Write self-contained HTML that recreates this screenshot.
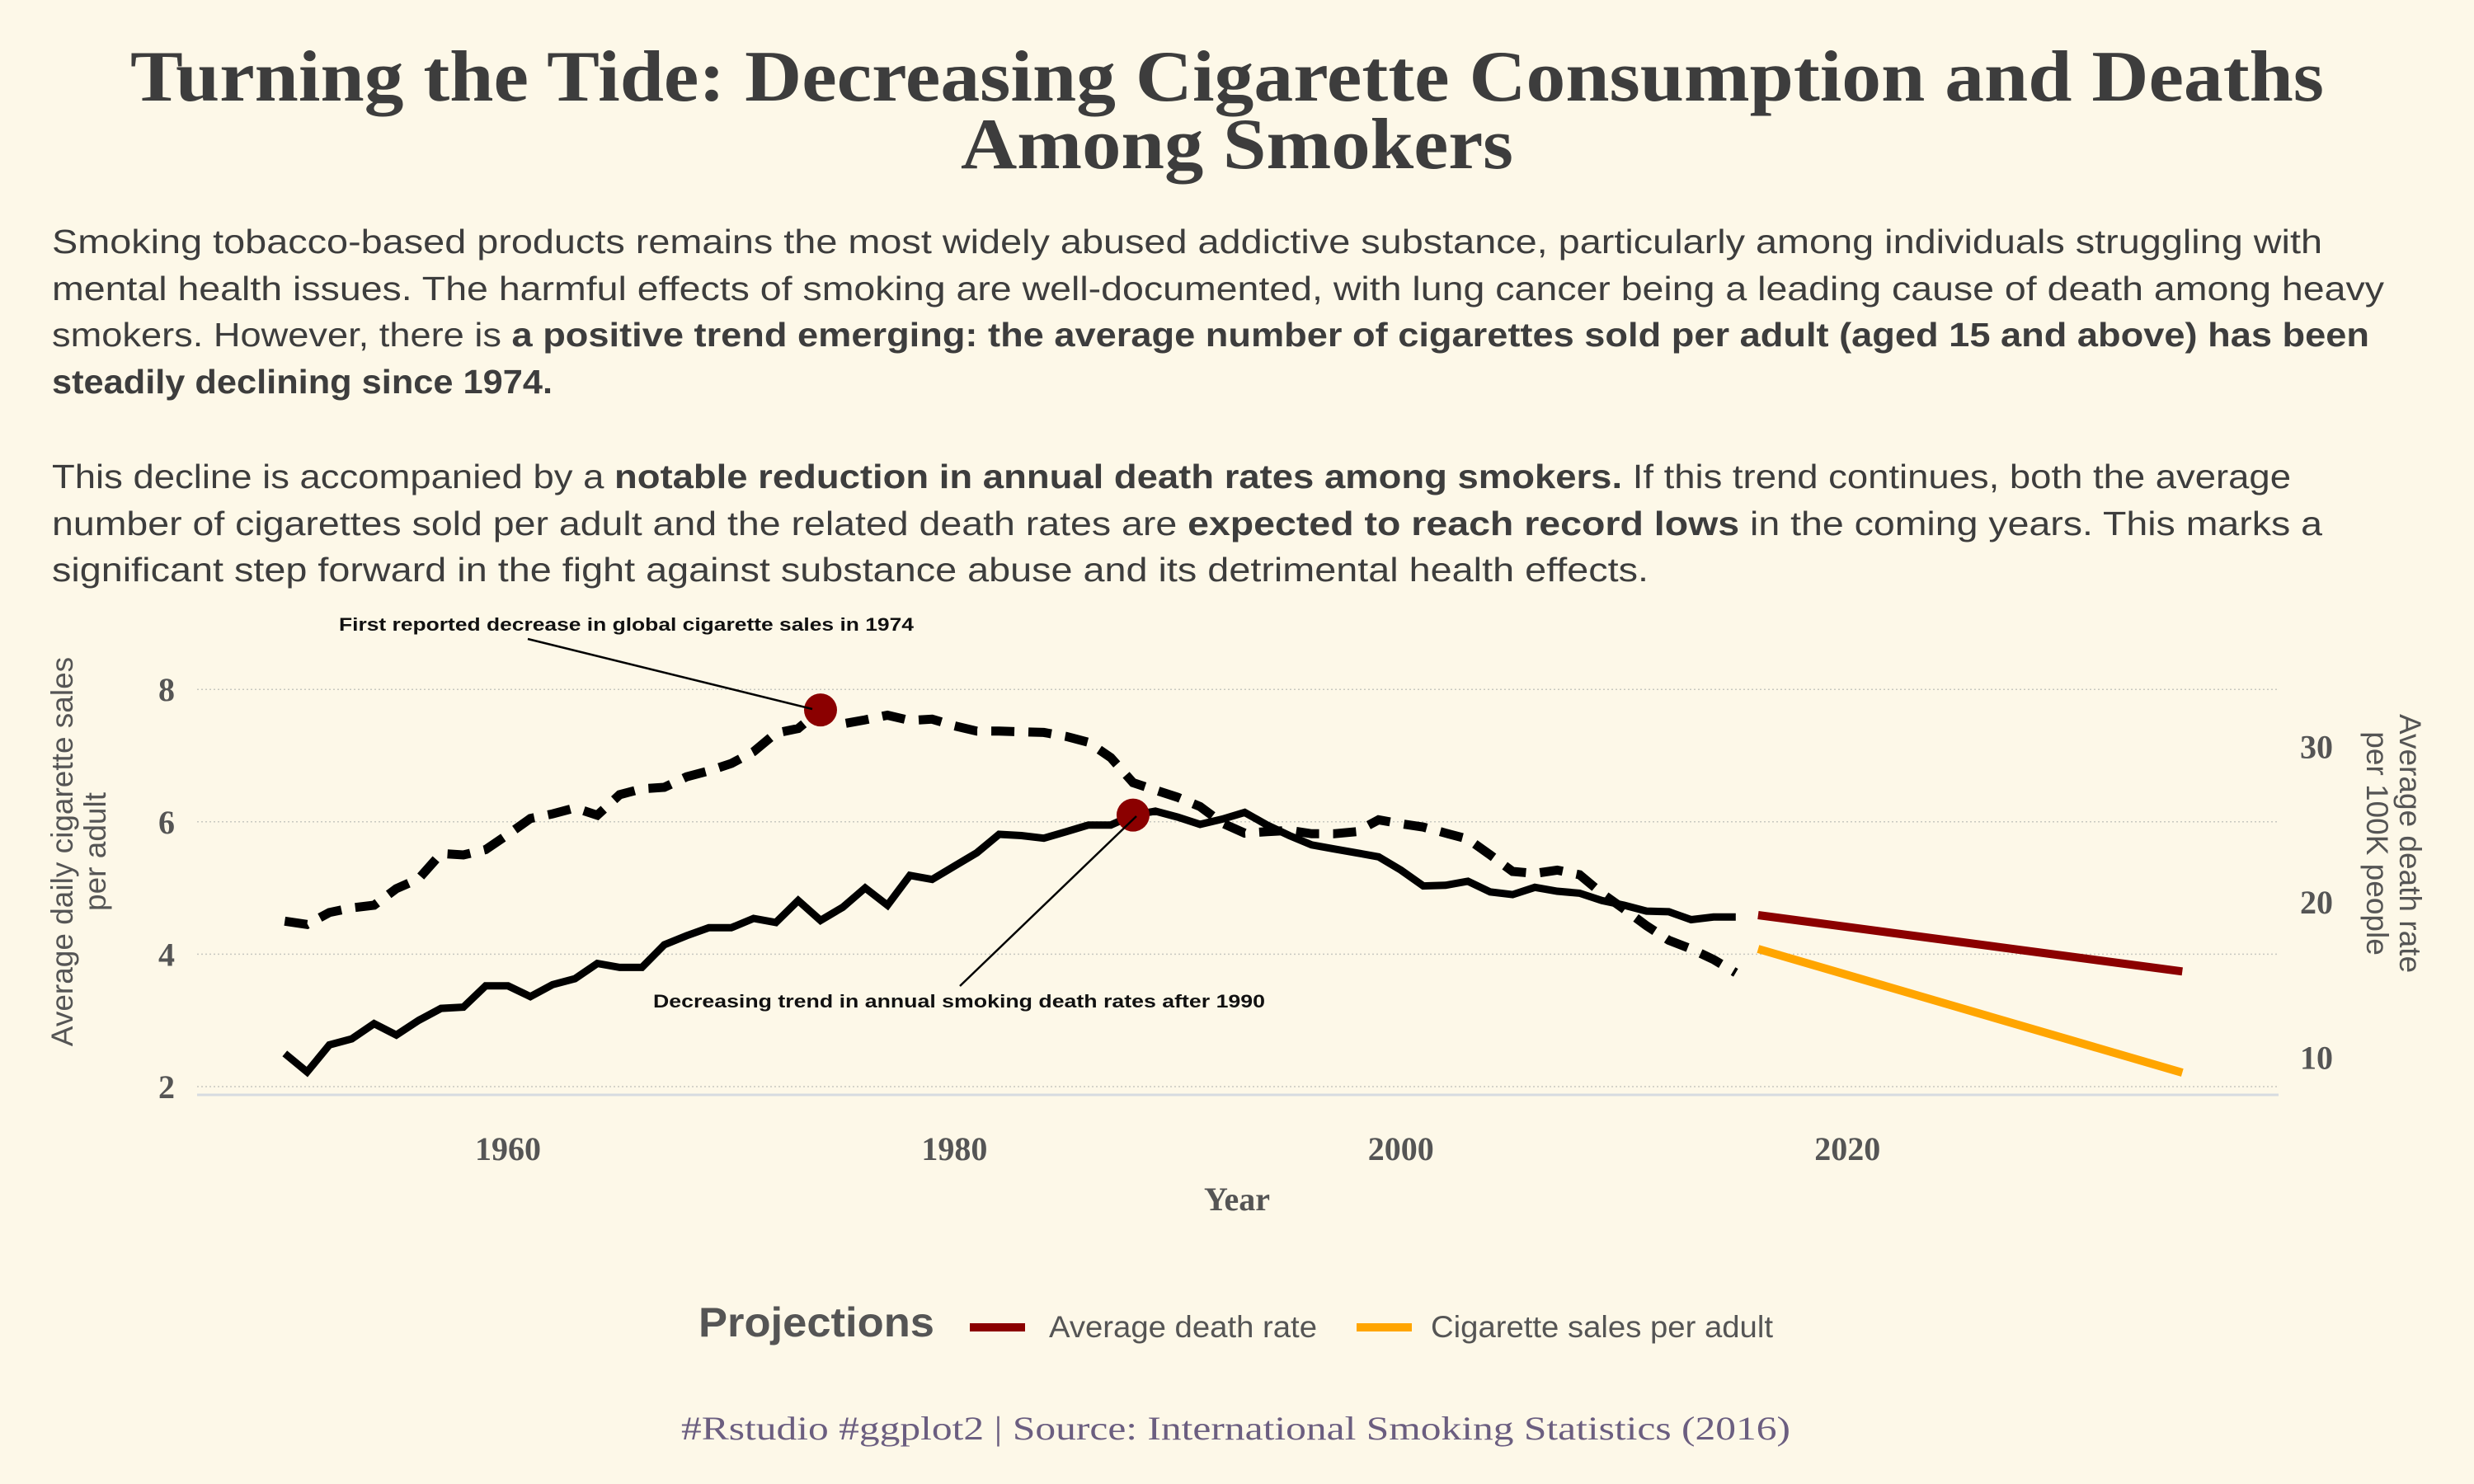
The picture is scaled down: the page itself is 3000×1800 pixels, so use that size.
<!DOCTYPE html>
<html><head><meta charset="utf-8"><style>
html,body{margin:0;padding:0;background:#fdf8e8;}
svg{display:block;}
</style></head><body>
<svg id="chart" width="3000" height="1800" viewBox="0 0 3000 1800" xmlns="http://www.w3.org/2000/svg">
<rect width="3000" height="1800" fill="#fdf8e8"/>
<g font-family="'Liberation Serif', serif" font-weight="bold" fill="#3d3d3d" text-anchor="middle">
<text x="1488" y="122" font-size="88" textLength="2660" lengthAdjust="spacingAndGlyphs">Turning the Tide: Decreasing Cigarette Consumption and Deaths</text>
<text x="1500" y="204" font-size="88" textLength="670" lengthAdjust="spacingAndGlyphs">Among Smokers</text>
</g>
<g font-family="'Liberation Sans', sans-serif" font-size="41" fill="#3d3d3d">
<text x="63" y="307" textLength="2753" lengthAdjust="spacingAndGlyphs">Smoking tobacco-based products remains the most widely abused addictive substance, particularly among individuals struggling with</text>
<text x="63" y="364" textLength="2828" lengthAdjust="spacingAndGlyphs">mental health issues. The harmful effects of smoking are well-documented, with lung cancer being a leading cause of death among heavy</text>
<text x="63" y="420" textLength="2810" lengthAdjust="spacingAndGlyphs">smokers. However, there is <tspan font-weight="bold">a positive trend emerging: the average number of cigarettes sold per adult (aged 15 and above) has been</tspan></text>
<text x="63" y="477" textLength="607" lengthAdjust="spacingAndGlyphs" font-weight="bold">steadily declining since 1974.</text>
<text x="63" y="592" textLength="2715" lengthAdjust="spacingAndGlyphs">This decline is accompanied by a <tspan font-weight="bold">notable reduction in annual death rates among smokers.</tspan> If this trend continues, both the average</text>
<text x="63" y="649" textLength="2753" lengthAdjust="spacingAndGlyphs">number of cigarettes sold per adult and the related death rates are <tspan font-weight="bold">expected to reach record lows</tspan>  in the coming years. This marks a</text>
<text x="63" y="705" textLength="1936" lengthAdjust="spacingAndGlyphs">significant step forward in the fight against substance abuse and its detrimental health effects.</text>
</g>
<g id="grid"></g>
<line x1="239" x2="2763" y1="1328" y2="1328" stroke="#d6dbe0" stroke-width="3"/>
<g id="axes" font-family="'Liberation Serif', serif" font-weight="bold" font-size="40" fill="#555"></g>
<text transform="translate(93,1033) rotate(-90)" text-anchor="middle" font-family="'Liberation Sans', sans-serif" font-size="37" fill="#555"><tspan x="0" dy="-5">Average daily cigarette sales</tspan><tspan x="0" dy="40">per adult</tspan></text>
<text transform="translate(2900,1023) rotate(90)" text-anchor="middle" font-family="'Liberation Sans', sans-serif" font-size="37" fill="#555"><tspan x="0" dy="-10">Average death rate</tspan><tspan x="0" dy="40">per 100K people</tspan></text>
<text x="1500" y="1468" text-anchor="middle" font-family="'Liberation Serif', serif" font-weight="bold" font-size="40" fill="#555">Year</text>
<g id="marks"></g>
<g font-family="'Liberation Sans', sans-serif" font-weight="bold" font-size="22" fill="#111">
<line x1="640" y1="775" x2="985" y2="860" stroke="#000" stroke-width="2.5"/>
<text x="411" y="765" textLength="697" lengthAdjust="spacingAndGlyphs">First reported decrease in global cigarette sales in 1974</text>
<line x1="1164" y1="1196" x2="1378" y2="990" stroke="#000" stroke-width="2.5"/>
<text x="792" y="1222" textLength="742" lengthAdjust="spacingAndGlyphs">Decreasing trend in annual smoking death rates after 1990</text>
</g>
<g font-family="'Liberation Sans', sans-serif" fill="#555">
<text x="847" y="1621" font-size="50" font-weight="bold" textLength="286" lengthAdjust="spacingAndGlyphs">Projections</text>
<rect x="1176" y="1605" width="67" height="10" fill="#8b0000"/>
<text x="1272" y="1622" font-size="37" textLength="325" lengthAdjust="spacingAndGlyphs">Average death rate</text>
<rect x="1645" y="1605" width="67" height="10" fill="#ffa500"/>
<text x="1735" y="1622" font-size="37" textLength="415" lengthAdjust="spacingAndGlyphs">Cigarette sales per adult</text>
</g>
<text x="826" y="1746" font-family="'Liberation Serif', serif" font-size="40" fill="#6b5e80" textLength="1345" lengthAdjust="spacingAndGlyphs">#Rstudio #ggplot2 | Source: International Smoking Statistics (2016)</text>
</svg>
<script>
const years = [1950,1951,1952,1953,1954,1955,1956,1957,1958,1959,1960,1961,1962,1963,1964,1965,1966,1967,1968,1969,1970,1971,1972,1973,1974,1975,1976,1977,1978,1979,1980,1981,1982,1983,1984,1985,1986,1987,1988,1989,1990,1991,1992,1993,1994,1995,1996,1997,1998,1999,2000,2001,2002,2003,2004,2005,2006,2007,2008,2009,2010,2011,2012,2013,2014,2015];
const salesPerAdult = [4.5,4.45,4.63,4.7,4.74,4.99,5.14,5.52,5.5,5.58,5.81,6.05,6.12,6.21,6.1,6.41,6.5,6.52,6.68,6.77,6.88,7.06,7.34,7.41,7.69,7.48,7.54,7.61,7.53,7.55,7.45,7.37,7.37,7.36,7.35,7.29,7.2,6.97,6.59,6.48,6.37,6.23,5.98,5.83,5.85,5.87,5.82,5.82,5.85,6.03,5.97,5.92,5.83,5.74,5.5,5.25,5.22,5.27,5.2,4.92,4.68,4.43,4.21,4.08,3.92,3.72];
const deathRate = [10.25,9.06,10.8,11.19,12.17,11.44,12.38,13.15,13.23,14.6,14.6,13.91,14.68,15.06,16.04,15.79,15.79,17.24,17.83,18.34,18.34,18.94,18.68,20.09,18.81,19.66,20.9,19.79,21.71,21.45,22.31,23.16,24.35,24.27,24.1,24.52,24.95,24.95,25.59,25.84,25.46,24.99,25.33,25.76,24.95,24.27,23.67,23.41,23.16,22.9,22.05,21.03,21.07,21.33,20.64,20.47,20.94,20.69,20.56,20.09,19.79,19.41,19.37,18.86,19.03,19.03];
const projYears = [2016,2035];
const projDeath = [19.15,15.53];
const projSales = [4.08,2.21];
const highlightYears = [1974,1988];
const xTicks = [1960,1980,2000,2020];
const leftTicks = [2,4,6,8];
const rightTicks = [10,20,30];

const NS = 'http://www.w3.org/2000/svg';
const X = y => 616 + (y - 1960) * 27.07;
const YL = v => 1318 - (v - 2) * 80.3;
const YR = v => 1094 - (v - 20) * 18.85;
function mk(tag, attrs, parent){ const e=document.createElementNS(NS,tag); for(const k in attrs) e.setAttribute(k,attrs[k]); parent.appendChild(e); return e; }
const grid=document.getElementById('grid'), axes=document.getElementById('axes'), marks=document.getElementById('marks');
leftTicks.forEach(t=>{
  const l=mk('line',{x1:239,x2:2763,y1:YL(t),y2:YL(t),stroke:'#c8c8c0','stroke-width':1.5,'stroke-dasharray':'2 3'},grid);
  
  
  const tx=mk('text',{x:212,y:YL(t)+14,'text-anchor':'end'},axes); tx.textContent=t;
  
  
});
rightTicks.forEach(t=>{
  const tx=mk('text',{x:2789,y:YR(t)+14,'text-anchor':'start'},axes); tx.textContent=t;
  
  
});
xTicks.forEach(t=>{
  const tx=mk('text',{x:X(t),y:1407,'text-anchor':'middle'},axes); tx.textContent=t;
  
  
});
const pts=(xs,ys,f)=>xs.map((x,i)=>X(x).toFixed(1)+','+f(ys[i]).toFixed(1)).join(' ');
const sl=mk('polyline',{points:pts(years,salesPerAdult,YL),fill:'none',stroke:'#000','stroke-width':11,'stroke-dasharray':'28 17','stroke-linejoin':'miter'},marks);


const dl=mk('polyline',{points:pts(years,deathRate,YR),fill:'none',stroke:'#000','stroke-width':9,'stroke-linejoin':'miter'},marks);


const pd=mk('polyline',{points:pts(projYears,projDeath,YR),fill:'none',stroke:'#8b0000','stroke-width':10},marks);


const ps=mk('polyline',{points:pts(projYears,projSales,YL),fill:'none',stroke:'#ffa500','stroke-width':10},marks);


const i1=years.indexOf(highlightYears[0]);
const c1=mk('circle',{cx:X(highlightYears[0]),cy:YL(salesPerAdult[i1]),r:20,fill:'#8b0000'},marks);


const i2=years.indexOf(highlightYears[1]);
const c2=mk('circle',{cx:X(highlightYears[1]),cy:YR(deathRate[i2]),r:20,fill:'#8b0000'},marks);


</script>
</body></html>
